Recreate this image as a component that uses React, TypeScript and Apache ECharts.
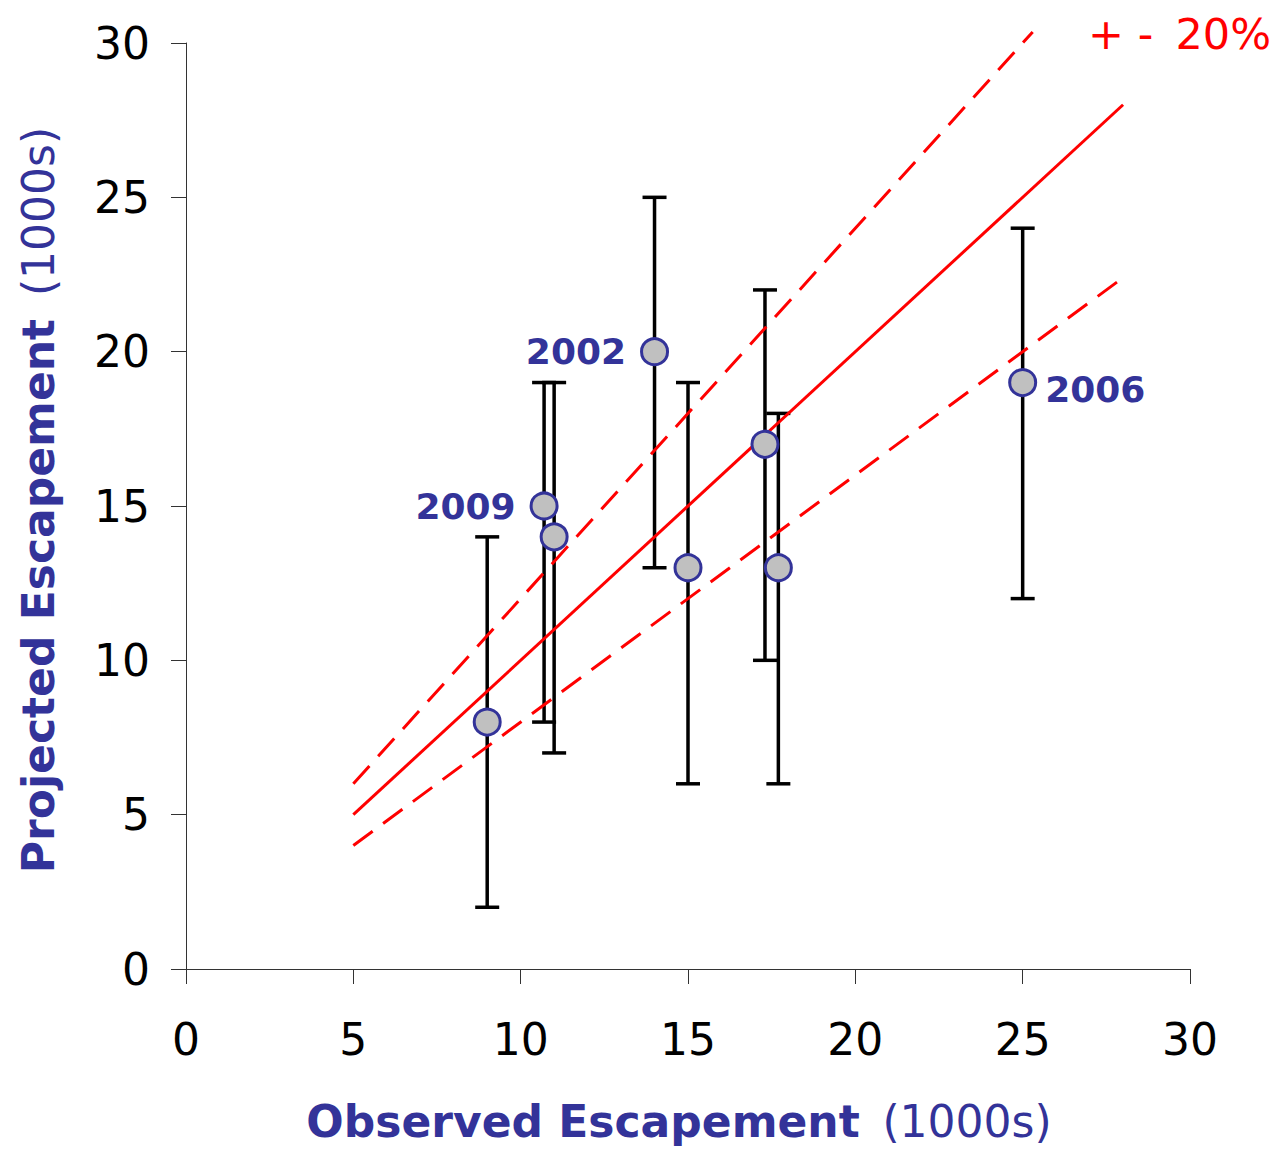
import React, { useEffect, useRef } from "react";
import * as echarts from "echarts";

const observed = [9, 10.7, 11, 14, 15, 17.3, 17.7, 25];
const projected = [8, 15, 14, 20, 13, 17, 13, 19];
const lower = [2, 8, 7, 13, 6, 10, 6, 12];
const upper = [14, 19, 19, 25, 19, 22, 18, 24];
const yearLabels = ["", "2009", "", "2002", "", "", "", "2006"];
const labelSide = ["", "left", "", "left", "", "", "", "right"];

const oneToOne = [[5, 5], [28, 28]];
const plus20 = [[5, 6], [25.3, 30.36]];
const minus20 = [[5, 4], [28, 22.4]];

const xTicks = { min: 0, max: 30, interval: 5 };
const yTicks = { min: 0, max: 30, interval: 5 };

const FONT = "DejaVu Sans";
const BLUE = "#333399";
const RED = "#ff0000";
const NB = "\u00a0\u2009";

export default function App() {
  const ref = useRef<HTMLDivElement>(null);
  useEffect(() => {
    if (!ref.current) return;
    const chart = echarts.init(ref.current, null, { renderer: "svg" });
    const errData = observed.map((x, i) => [x, lower[i], upper[i]]);
    const pointData = observed.map((x, i) => {
      const item: any = { value: [x, projected[i]] };
      if (yearLabels[i]) {
        item.label = {
          show: true,
          formatter: yearLabels[i],
          position: labelSide[i],
          distance: labelSide[i] === "left" ? 14 : 8,
          color: BLUE,
          fontFamily: FONT,
          fontWeight: "bold",
          fontSize: 36,
          offset: labelSide[i] === "right" ? [0, 7] : [0, 0],
        };
      }
      return item;
    });
    const nameRich = {
      b: { fontFamily: FONT, fontWeight: "bold", fontSize: 44, color: BLUE },
      n: { fontFamily: FONT, fontSize: 44, color: BLUE },
    };
    chart.setOption({
      animation: false,
      grid: { left: 172, right: 85, top: 35, bottom: 170 },
      xAxis: {
        type: "value",
        ...xTicks,
        name: "{b|Observed Escapement}{n|" + NB + "(1000s)}",
        nameLocation: "middle",
        nameGap: 130,
        nameTextStyle: { rich: nameRich, padding: [0, 18, 0, 0] },
        axisLine: { show: true, lineStyle: { color: "#333", width: 1 } },
        axisTick: { show: true, length: 15, inside: false, lineStyle: { color: "#333", width: 1 } },
        axisLabel: { fontFamily: FONT, fontSize: 44, color: "#000", margin: 48 },
        splitLine: { show: false },
      },
      yAxis: {
        type: "value",
        ...yTicks,
        name: "{b|Projected Escapement}{n|" + NB + "(1000s)}",
        nameLocation: "middle",
        nameGap: 126,
        nameTextStyle: { rich: nameRich, padding: [0, 0, 0, 12] },
        axisLine: { show: true, lineStyle: { color: "#333", width: 1 } },
        axisTick: { show: true, length: 15, inside: false, lineStyle: { color: "#333", width: 1 } },
        axisLabel: { fontFamily: FONT, fontSize: 44, color: "#000", margin: 36 },
        splitLine: { show: false },
      },
      graphic: [
        {
          type: "text",
          right: 4,
          top: 4,
          style: { text: "+ -\u2009 20%", fill: RED, fontFamily: FONT, fontSize: 43 },
        },
      ],
      series: [
        {
          type: "custom",
          data: errData,
          z: 2,
          renderItem: (params: any, api: any) => {
            const x = api.value(0);
            const lo = api.coord([x, api.value(1)]);
            const hi = api.coord([x, api.value(2)]);
            const w = 12;
            const style = { stroke: "#000", lineWidth: 3.5 };
            return {
              type: "group",
              children: [
                { type: "line", shape: { x1: lo[0], y1: lo[1], x2: hi[0], y2: hi[1] }, style },
                { type: "line", shape: { x1: lo[0] - w, y1: lo[1], x2: lo[0] + w, y2: lo[1] }, style },
                { type: "line", shape: { x1: hi[0] - w, y1: hi[1], x2: hi[0] + w, y2: hi[1] }, style },
              ],
            };
          },
        },
        {
          type: "line",
          data: oneToOne,
          symbol: "none",
          z: 3,
          lineStyle: { color: RED, width: 3 },
        },
        {
          type: "line",
          data: plus20,
          symbol: "none",
          clip: false,
          z: 3,
          lineStyle: { color: RED, width: 3, type: [24, 13] },
        },
        {
          type: "line",
          data: minus20,
          symbol: "none",
          z: 3,
          lineStyle: { color: RED, width: 3, type: [24, 13] },
        },
        {
          type: "scatter",
          data: pointData,
          symbol: "circle",
          symbolSize: 26,
          z: 5,
          itemStyle: { color: "#c0c0c0", borderColor: BLUE, borderWidth: 3, opacity: 1 },
        },
      ],
    });
    return () => chart.dispose();
  }, []);
  return <div ref={ref} style={{ width: 1267, height: 1140 }} />;
}
